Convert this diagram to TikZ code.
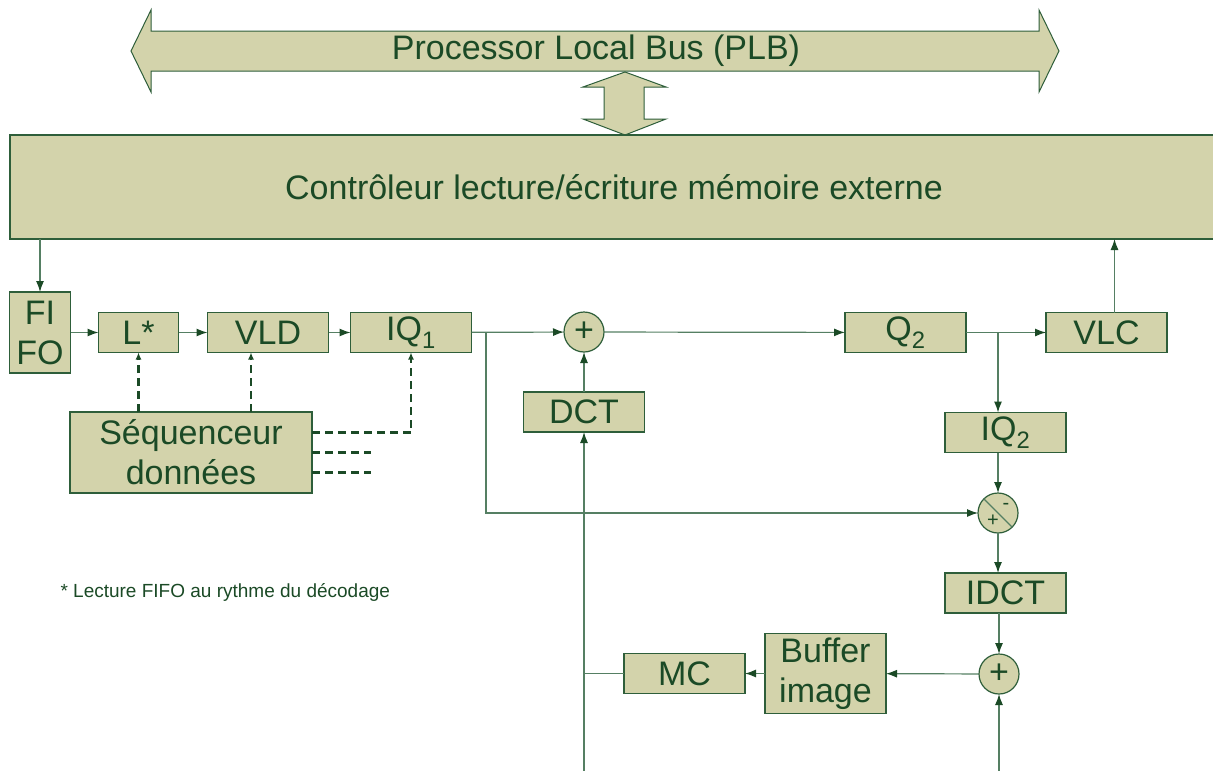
\documentclass[tikz,border=0pt]{standalone}
\usepackage{fontspec}
\setmainfont{Liberation Sans}
\usepackage{tikz}
\usetikzlibrary{arrows.meta}
\usetikzlibrary{calc,positioning}

\definecolor{boxfill}{HTML}{D3D3AB}
\definecolor{boxline}{HTML}{2E5E3A}
\definecolor{txtgreen}{HTML}{1B4A26}
\definecolor{wiregreen}{HTML}{557F63}

\begin{document}
\begin{tikzpicture}[x=1pt, y=-1pt,
    block/.style={rectangle, draw=boxline, fill=boxfill, line width=1.2pt, inner sep=0pt, outer sep=0pt,
    text=txtgreen, align=center, minimum width=121pt, minimum height=40pt,
    font=\fontsize{34}{40}\selectfont},
    summer/.style={circle, draw=boxline, fill=boxfill, line width=1.2pt, inner sep=0pt, outer sep=0pt,
    minimum size=40pt, text=txtgreen, font=\fontsize{34}{36}\selectfont},
    sign/.style={inner sep=0pt, text=txtgreen, font=\fontsize{20}{22}\selectfont},
    wire/.style={draw=wiregreen, line width=1.2pt, -{Latex[length=11pt,width=8pt,color=txtgreen]}},
    plain/.style={draw=wiregreen, line width=1.2pt},
    ctl/.style={draw=txtgreen, line width=2.2pt, dash pattern=on 8pt off 5pt,
    -{Latex[length=7pt,width=6pt]}},
    bigarrow/.style={draw=boxline, fill=boxfill, line width=1pt, line join=miter},]
    \useasboundingbox (0,0) rectangle (1213,771);

    % bus and link
    \filldraw [bigarrow] (131,51) -- (151,10) -- (151,31) -- (1039,31) -- (1039,10) -- (1059,51)
        -- (1039,92) -- (1039,71) -- (151,71) -- (151,92) -- cycle;
    \node (plb) [text=txtgreen, font=\fontsize{34}{40}\selectfont] at (596,51) {Processor Local Bus (PLB)};
    \filldraw [bigarrow] (625,72) -- (666,87) -- (644,87) -- (644,119) -- (666,119) -- (625,135)
        -- (583,119) -- (604,119) -- (604,87) -- (583,87) -- cycle;

    \node (ctrl) [block, minimum width=1208pt, minimum height=104pt]
        at (614,187) {Contrôleur lecture/écriture mémoire externe};

    % decoding chain
    \node (fifo) [block, minimum width=61pt, minimum height=81pt] at (40,332.5) {FI\\FO};
    \node (lstar) [block, minimum width=80pt, right=28pt of fifo] {L*};
    \node (vld) [block, right=29pt of lstar] {VLD};
    \node (iq1) [block, right=22pt of vld] {IQ\textsubscript{1}};
    \node (seq) [block, minimum width=242pt, minimum height=81pt] at (191,452.5) {Séquenceur\\données};

    % encoding chain
    \node (add1) [summer] at (584,332) {+};
    \node (dct) [block, below=40pt of add1] {DCT};
    \node (q2) [block] at (905.5,332.5) {Q\textsubscript{2}};
    \node (vlc) [block, right=80pt of q2] {VLC};
    \node (iq2) [block] at (1005.5,432.5) {IQ\textsubscript{2}};
    \node (sub) [summer] at (998,513) {};
    \node (subm) [sign] at ([xshift=8pt,yshift=7pt]sub.center) {-};
    \node (subp) [sign] at ([xshift=-5pt,yshift=-8pt]sub.center) {+};
    \node (idct) [block] at (1005.5,593) {IDCT};
    \node (add2) [summer] at (999,674) {+};
    \node (buffer) [block, minimum height=80pt] at (825.5,673.5) {Buffer\\image};
    \node (mc) [block, left=20pt of buffer] {MC};

    \node (note) [anchor=west, text=txtgreen, font=\fontsize{19}{22}\selectfont] at (57,592)
        {* Lecture FIFO au rythme du décodage};

    \coordinate (tap1) at (486,332);
    \coordinate (tap2) at (998,332);
    \coordinate (in1) at (584,771);
    \coordinate (in2) at (999,771);
    \coordinate (d2) at (371,452.5);
    \coordinate (d3) at (371,472.5);

    \draw [wire] (fifo.north |- ctrl.south) -- (fifo.north);
    \draw [wire] (fifo) -- (lstar);
    \draw [wire] (lstar) -- (vld);
    \draw [wire] (vld) -- (iq1);
    \draw [wire] (iq1) -- (add1);
    \draw [wire] (tap1) |- (sub.west);
    \draw [wire] (dct) -- (add1);
    \draw [wire] (in1) -- (dct);
    \draw [wire] (add1) -- (q2);
    \draw [wire] (q2) -- (vlc);
    \draw [wire] (tap2) -- (tap2 |- iq2.north);
    \draw [wire] ([xshift=8pt]vlc.north) -- ([xshift=8pt]vlc.north |- ctrl.south);
    \draw [wire] (sub |- iq2.south) -- (sub.north);
    \draw [plain] (sub.north west) -- (sub.south east);
    \draw [wire] (sub.south) -- (sub |- idct.north);
    \draw [wire] (add2 |- idct.south) -- (add2.north);
    \draw [wire] (in2) -- (add2.south);
    \draw [wire] (add2) -- (buffer);
    \draw [wire] (buffer) -- (mc);
    \draw [plain] (mc.west) -- (mc.west -| in1);

    \draw [ctl] (lstar.south |- seq.north) -- (lstar.south);
    \draw [ctl] ([xshift=-17pt]vld.south |- seq.north) -- ([xshift=-17pt]vld.south);
    \draw [ctl] ([yshift=20pt]seq.east) -| (iq1.south);
    \draw [ctl, -] (seq.east) -- (d2);
    \draw [ctl, -] ([yshift=-20pt]seq.east) -- (d3);
\end{tikzpicture}
\end{document}
